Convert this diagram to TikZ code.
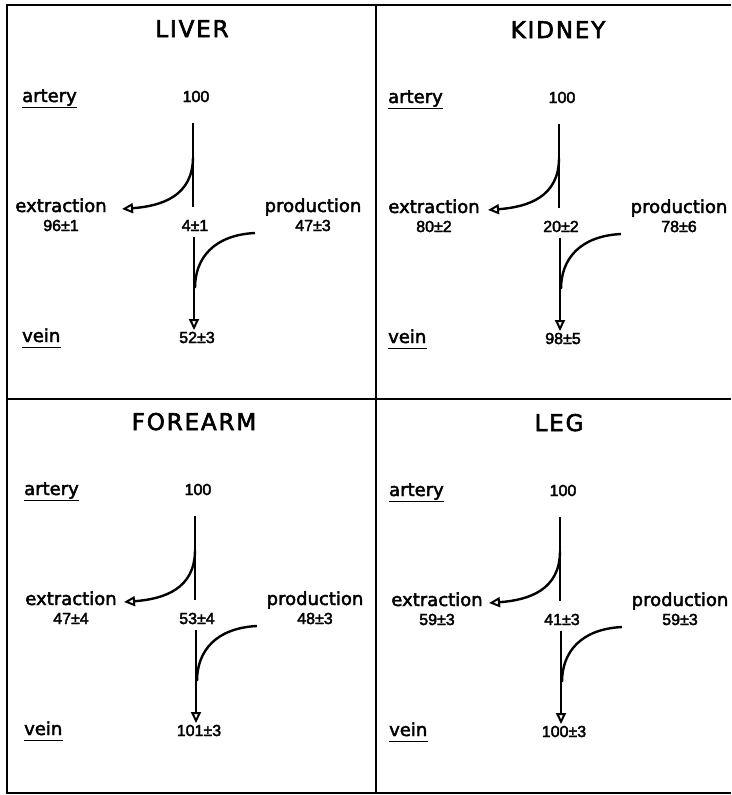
\documentclass[tikz,border=0pt]{standalone}
\usepackage{fontspec}
\setmainfont[FakeBold=2.5]{DejaVu Sans}
\newfontfamily\numfont[FakeBold=2.5]{Liberation Sans}
\newfontfamily\headfont[LetterSpace=8, FakeBold=2.5]{DejaVu Sans}
\usetikzlibrary{arrows.meta}

\tikzset{
  frame/.style={line width=2pt},
  word/.style={font=\fontsize{18}{20}\selectfont, inner sep=0pt, anchor=base},
  value/.style={font=\numfont\fontsize{16}{18}\selectfont, inner sep=0pt, anchor=base},
  heading/.style={font=\headfont\fontsize{23}{25}\selectfont, inner sep=0pt, anchor=base},
  vessel/.style={line width=2pt},
  flow/.style={line width=2.4pt},
  tipped/.style={-{Triangle[open, length=11pt, width=10pt, line width=2pt]}},
  underline/.style={line width=1.6pt},
}

% One organ panel: #1 prefix, #2/#3 shift, #4 title, #5 venous-side value,
% #6 extraction, #7 production, #8 vein value, #9 x of the extraction label
\newcommand\organpanel[9]{%
\begin{scope}[shift={(#2,#3)}]
  \node[heading] (#1-title) at (192,37) {#4};
  \node[word, anchor=base west] (#1-artery) at (22,102) {artery};
  \draw[underline] ([yshift=-5.5pt]#1-artery.base west) -- ([yshift=-5.5pt]#1-artery.base east);
  \node[value] (#1-in) at (196,102) {100};
  \node[word] (#1-ext) at (#9,212) {extraction};
  \node[value] (#1-extval) at (#9,231) {#6};
  \node[value] (#1-mid) at (195,231) {#5};
  \node[word] (#1-prod) at (313,212) {production};
  \node[value] (#1-prodval) at (313,231) {#7};
  \node[word, anchor=base west] (#1-vein) at (22,342) {vein};
  \draw[underline] ([yshift=-5.5pt]#1-vein.base west) -- ([yshift=-5.5pt]#1-vein.base east);
  \node[value] (#1-out) at (197,343) {#8};
  % artery segment and the extraction branch leaving it
  \coordinate (#1-top) at (193,123);
  \coordinate (#1-split) at (193,207);
  \coordinate (#1-branch) at (193,157);
  \coordinate (#1-exttip) at (122,209);
  \draw[vessel] (#1-top) -- (#1-split);
  \draw[flow, tipped] (#1-branch) .. controls (193,196) and (162,206) .. (#1-exttip);
  % venous segment and the production branch joining it
  \coordinate (#1-low) at (194,237);
  \coordinate (#1-veintip) at (194,330);
  \coordinate (#1-prodstart) at (255,233);
  \coordinate (#1-join) at (195,288);
  \draw[vessel, tipped] (#1-low) -- (#1-veintip);
  \draw[flow] (#1-prodstart) .. controls (214,235) and (195,258) .. (#1-join);
\end{scope}}

\begin{document}
\begin{tikzpicture}[x=1pt, y=-1pt]
  \useasboundingbox (0,0) rectangle (731,795);
  % outer frame and the dividers between the four panels
  \coordinate (tr) at (731,5);
  \coordinate (tl) at (7,5);
  \coordinate (bl) at (7,793);
  \coordinate (br) at (731,793);
  \coordinate (vt) at (375.5,5);
  \coordinate (vb) at (375.5,793);
  \coordinate (hl) at (7,398.5);
  \coordinate (hr) at (731,398.5);
  \draw[frame] (tr) -- (tl) -- (bl) -- (br);
  \draw[frame] (vt) -- (vb);
  \draw[frame] (hl) -- (hr);

  \organpanel{liver}{0}{0}{LIVER}{4±1}{96±1}{47±3}{52±3}{61}
  \organpanel{kidney}{366}{1}{KIDNEY}{20±2}{80±2}{78±6}{98±5}{68}
  \organpanel{forearm}{2}{393}{FOREARM}{53±4}{47±4}{48±3}{101±3}{69}
  \organpanel{leg}{367}{394}{LEG}{41±3}{59±3}{59±3}{100±3}{70}
\end{tikzpicture}
\end{document}
